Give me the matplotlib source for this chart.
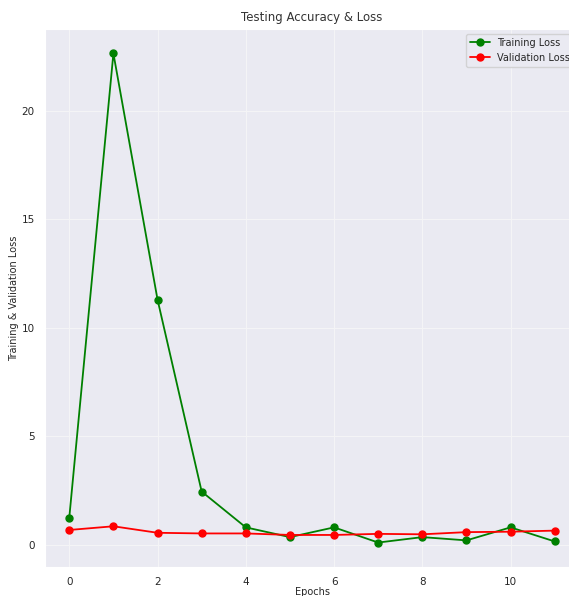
import matplotlib
matplotlib.use('Agg')
import matplotlib.pyplot as plt
import seaborn as sns

epochs = list(range(12))
train_loss = [1.25, 22.65, 11.3, 2.45, 0.8, 0.35, 0.8, 0.1, 0.35, 0.2, 0.8, 0.15]
val_loss = [0.68, 0.85, 0.55, 0.52, 0.52, 0.45, 0.45, 0.5, 0.48, 0.58, 0.6, 0.65]

sns.set_style('darkgrid', {'grid.color': '#f4f4f6'})
plt.rcParams['font.family'] = ['DejaVu Sans']

fig = plt.figure(figsize=(5.69, 5.96), dpi=100)
ax = fig.add_axes([45 / 569, 29 / 596, 534 / 569, 538 / 596])

ax.plot(epochs, train_loss, 'go-', label='Training Loss', markersize=5, linewidth=1.3)
ax.plot(epochs, val_loss, 'ro-', label='Validation Loss', markersize=5, linewidth=1.3)

ax.set_title('Testing Accuracy & Loss', fontsize=8.5, color='#333333')
ax.set_xlabel('Epochs', fontsize=7, labelpad=0)
ax.set_ylabel('Training & Validation Loss', fontsize=7, labelpad=2)
ax.tick_params(labelsize=7.5, pad=4)
ax.grid(linewidth=0.8)
ax.legend(fontsize=7, loc='upper right')

fig.savefig('out.png', dpi=100)
